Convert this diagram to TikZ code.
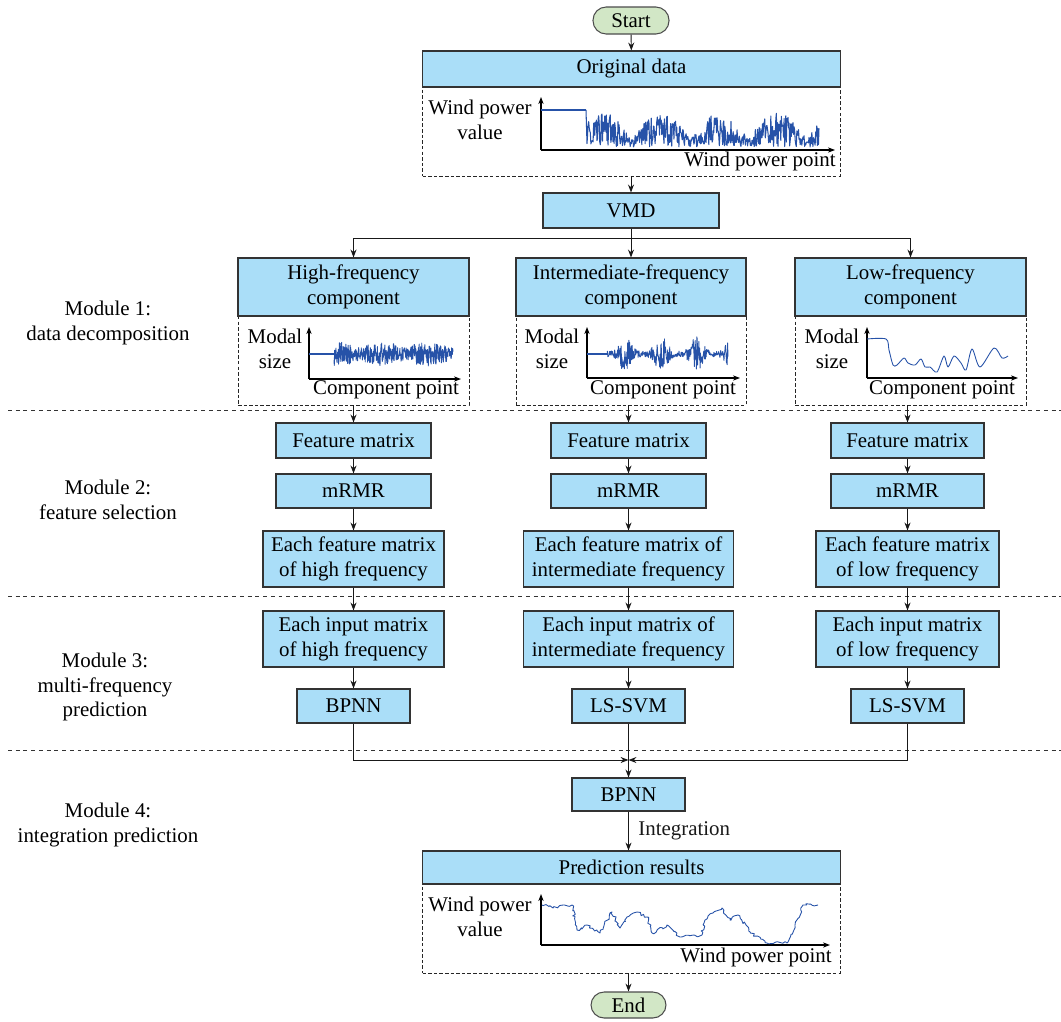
\documentclass[tikz,border=0pt]{standalone}
\usepackage{fontspec}
\setmainfont{Liberation Serif}
\usetikzlibrary{arrows.meta,decorations.pathmorphing}
\definecolor{boxblue}{RGB}{170,222,248}
\definecolor{termgreen}{RGB}{210,231,198}
\definecolor{sigblue}{RGB}{38,82,168}
\newcommand{\figfont}{\fontsize{11.9pt}{14.2pt}\selectfont}

\begin{document}
\begin{tikzpicture}[x=0.02cm, y=-0.02cm,
  every node/.style={font=\figfont},
  sz/.style 2 args={minimum width=#1*0.02cm, minimum height=#2*0.02cm},
  box/.style={draw=black!80, fill=boxblue, line width=0.6pt, inner sep=1pt, align=center},
  term/.style={draw=black!70, fill=termgreen, line width=0.6pt, rounded corners=7.5pt, inner sep=1pt},
  panel/.style={draw=black!85, line width=0.5pt, dash pattern=on 2pt off 1.2pt, inner sep=0pt},
  arr/.style={-{Stealth[length=4.5pt,width=3.4pt]}, line width=0.55pt, black!90},
  axis/.style={-{Stealth[length=4pt,width=3pt]}, line width=0.7pt},
  signal/.style={sigblue, line width=0.5pt, line join=round},
  divider/.style={black!80, line width=0.5pt, dash pattern=on 2.2pt off 2.2pt},
  lbl/.style={align=center, inner sep=0pt}]
\useasboundingbox (0,0) rectangle (1061,1021);
\pgfmathsetseed{7}

% module borders
\draw[divider] (8,410) -- (1061,410);
\draw[divider] (8,596) -- (1061,596);
\draw[divider] (8,750) -- (1061,750);

\node[lbl] (mod1) at (108,323) {Module 1:\\data decomposition};
\node[lbl] (mod2) at (108,500) {Module 2:\\feature selection};
\node[lbl] (mod3) at (105,687) {Module 3:\\multi-frequency\\prediction};
\node[lbl] (mod4) at (108,825) {Module 4:\\integration prediction};

% top part
\node[term, sz={76}{27}] (start) at (631,20.5) {Start};
\node[panel, sz={418}{89}] (origpanel) at (631.5,131.5) {};
\node[box, sz={418}{36}] (orig) at (631.5,69) {Original data};
\node[box, sz={176}{35}] (vmd) at (631,210.5) {VMD};

% components
\node[panel, sz={231}{89}] (hfpanel) at (353.5,360.5) {};
\node[panel, sz={230}{89}] (mfpanel) at (631,360.5) {};
\node[panel, sz={231}{89}] (lfpanel) at (910.5,360.5) {};
\node[box, sz={231}{58}] (hf) at (353.5,287) {High-frequency\\component};
\node[box, sz={230}{58}] (mf) at (631,287) {Intermediate-frequency\\component};
\node[box, sz={231}{58}] (lf) at (910.5,287) {Low-frequency\\component};

% feature selection
\node[box, sz={155}{35}] (hffeat) at (353.5,440.5) {Feature matrix};
\node[box, sz={155}{35}] (mffeat) at (628.5,440.5) {Feature matrix};
\node[box, sz={153}{35}] (lffeat) at (907.5,440.5) {Feature matrix};
\node[box, sz={155}{34}] (hfsel) at (353.5,491) {mRMR};
\node[box, sz={155}{34}] (mfsel) at (628.5,491) {mRMR};
\node[box, sz={153}{34}] (lfsel) at (907.5,491) {mRMR};
\node[box, sz={181}{56}] (hfset) at (353.5,559) {Each feature matrix\\of high frequency};
\node[box, sz={210}{56}] (mfset) at (628.5,559) {Each feature matrix of\\intermediate frequency};
\node[box, sz={183}{56}] (lfset) at (907.5,559) {Each feature matrix\\of low frequency};

% prediction
\node[box, sz={181}{56}] (hfin) at (353.5,639) {Each input matrix\\of high frequency};
\node[box, sz={210}{56}] (mfin) at (628.5,639) {Each input matrix of\\intermediate frequency};
\node[box, sz={183}{56}] (lfin) at (907.5,639) {Each input matrix\\of low frequency};
\node[box, sz={113}{34}] (hfmodel) at (353.5,706) {BPNN};
\node[box, sz={113}{34}] (mfmodel) at (628.5,706) {LS-SVM};
\node[box, sz={113}{34}] (lfmodel) at (907.5,706) {LS-SVM};

% integration
\node[box, sz={113}{33}] (bpnn) at (628.5,794.5) {BPNN};
\node[panel, sz={418}{89}] (respanel) at (631.5,928.5) {};
\node[box, sz={418}{33}] (res) at (631.5,867.5) {Prediction results};
\node[term, sz={75}{26}] (end) at (628.5,1005) {End};

% connectors
\coordinate (split) at (631,238);
\coordinate (join) at (628.5,760);
\draw[arr] (start) -- (orig);
\draw[arr] (vmd.north|-origpanel.south) -- (vmd);
\draw[line width=0.55pt, black!90] (vmd) -- (split);
\draw[arr] (split) -| (hf.north);
\draw[arr] (split) -- (mf);
\draw[arr] (split) -| (lf.north);
\draw[arr] (hfpanel) -- (hffeat);
\draw[arr] (mffeat.north|-mfpanel.south) -- (mffeat);
\draw[arr] (lffeat.north|-lfpanel.south) -- (lffeat);
\foreach \c in {hf,mf,lf}{
  \draw[arr] (\c feat) -- (\c sel);
  \draw[arr] (\c sel) -- (\c set);
  \draw[arr] (\c set) -- (\c in);
  \draw[arr] (\c in) -- (\c model);
}
\draw[arr] (hfmodel) |- (join);
\draw[arr] (lfmodel) |- (join);
\draw[arr] (mfmodel) -- (bpnn);
\draw[arr] (bpnn) -- (bpnn.south|-res.north) node[midway, right=2pt] {Integration};
\draw[arr] (end.north|-respanel.south) -- (end);

% original data
\draw[axis] (541,150) -- (541,97);
\draw[axis] (541,150) -- (835,150);
\draw[signal, line width=1pt] (541,110) -- (586,110);
\draw[signal, line width=0.6pt] (586,110) -- plot[domain=587:819, samples=420]
  (\x, {max(110, min(148, 147 - (8 + 26*abs(sin(\x*3.1+20)))*rnd))});
\node[lbl] (origy) at (480,120) {Wind power\\value};
\node[lbl] (origx) at (760,161) {Wind power point};

% high frequency
\draw[axis] (309,379) -- (309,327);
\draw[axis] (309,379) -- (461,379);
\draw[signal, line width=1.2pt] (309,354) -- (334,354);
\draw[signal] plot[domain=334:453, samples=420]
  (\x, {354 + (6 + 6*abs(sin(\x*4)))*rand});
\node[lbl] (hfy) at (275,349) {Modal\\size};
\node[lbl] (hfx) at (386,390) {Component point};

% intermediate frequency
\draw[axis] (587,378) -- (587,327);
\draw[axis] (587,378) -- (740,378);
\draw[signal, line width=0.8pt] (587,354) -- (607,354);
\draw[signal] plot[domain=607:728, samples=300]
  (\x, {354 + (3 + 15*(sin((\x-607)*5))^4)*rand});
\node[lbl] (mfy) at (552,349) {Modal\\size};
\node[lbl] (mfx) at (663,390) {Component point};

% low frequency
\draw[axis] (867,378) -- (867,327);
\draw[axis] (867,378) -- (1018,378);
\draw[signal] plot[smooth, tension=0.5] coordinates {(867,339) (886,339) (889,350)
  (893,365) (897,365) (904,358) (908,363) (915,365) (921,359) (925,367) (930,367)
  (937,372) (944,356) (948,367) (954,356) (961,363) (966,370) (972,349) (980,367)
  (994,348) (1002,358) (1008,356)};
\node[lbl] (lfy) at (832,349) {Modal\\size};
\node[lbl] (lfx) at (942,390) {Component point};

% prediction results
\draw[axis] (541,945) -- (541,894);
\draw[axis] (541,945) -- (830,945);
\draw[signal, decorate, decoration={random steps, segment length=1.2pt, amplitude=0.9pt}]
  (542,905) -- (553,908) -- (563,905) -- (572,905) -- (577,930) -- (587,925)
  -- (600,933) -- (612,912) -- (620,928) -- (627,917) -- (637,912) -- (647,917)
  -- (652,933) -- (667,925) -- (680,937) -- (702,935) -- (705,920) -- (713,913)
  -- (722,908) -- (730,920) -- (738,915) -- (750,932) -- (767,943) -- (787,943)
  -- (795,925) -- (803,905) -- (818,905);
\node[lbl] (resy) at (480,917) {Wind power\\value};
\node[lbl] (resx) at (756,957) {Wind power point};
\end{tikzpicture}
\end{document}
